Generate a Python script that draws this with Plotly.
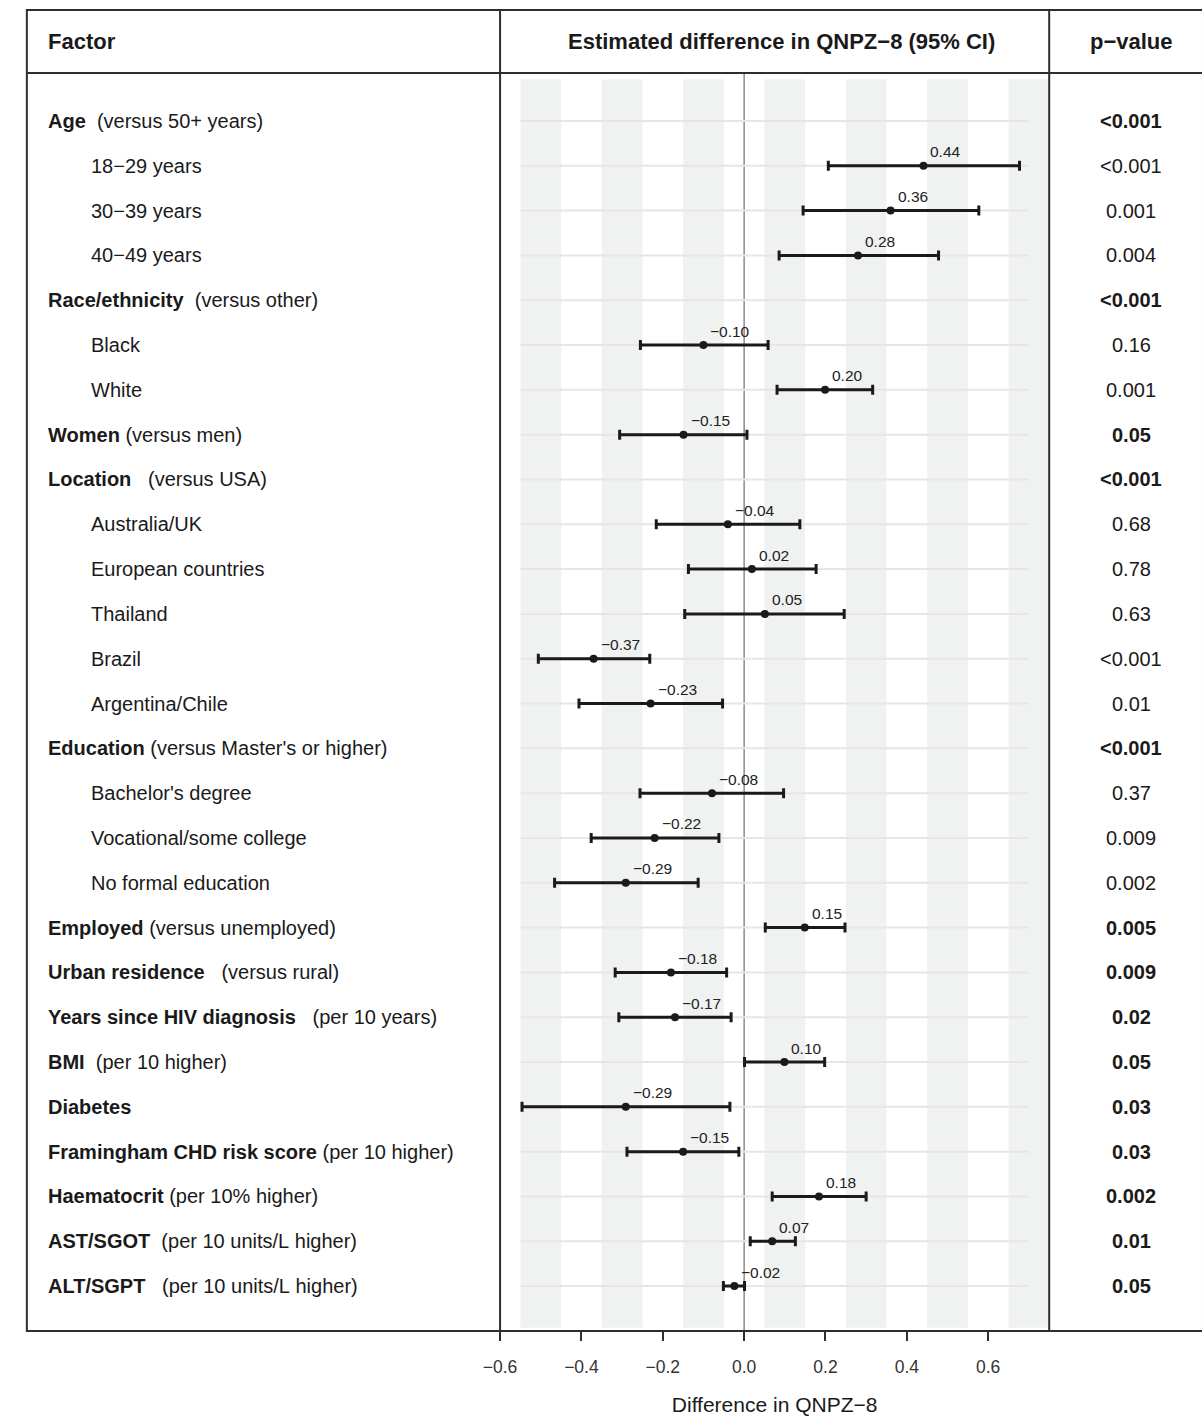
import plotly.graph_objects as go

# ---------------- data ----------------
label_bold = ["Age", "", "", "", "Race/ethnicity", "", "", "Women", "Location", "", "", "", "", "",
              "Education", "", "", "", "Employed", "Urban residence", "Years since HIV diagnosis",
              "BMI", "Diabetes", "Framingham CHD risk score", "Haematocrit", "AST/SGOT", "ALT/SGPT"]
label_plain = ["  (versus 50+ years)", "18−29 years", "30−39 years", "40−49 years", "  (versus other)",
               "Black", "White", " (versus men)", "   (versus USA)", "Australia/UK", "European countries",
               "Thailand", "Brazil", "Argentina/Chile", " (versus Master's or higher)", "Bachelor's degree",
               "Vocational/some college", "No formal education", " (versus unemployed)", "   (versus rural)",
               "   (per 10 years)", "  (per 10 higher)", "", " (per 10 higher)", " (per 10% higher)",
               "  (per 10 units/L higher)", "   (per 10 units/L higher)"]
row_level = [0, 1, 1, 1, 0, 1, 1, 0, 0, 1, 1, 1, 1, 1, 0, 1, 1, 1, 0, 0, 0, 0, 0, 0, 0, 0, 0]

estimate = [None, 0.441, 0.360, 0.280, None, -0.100, 0.199, -0.149, None, -0.040, 0.019, 0.051,
            -0.370, -0.230, None, -0.079, -0.220, -0.291, 0.149, -0.180, -0.170, 0.099, -0.291,
            -0.150, 0.184, 0.069, -0.024]
ci_low = [None, 0.207, 0.145, 0.086, None, -0.255, 0.081, -0.306, None, -0.216, -0.137, -0.146,
          -0.506, -0.406, None, -0.256, -0.376, -0.466, 0.052, -0.317, -0.308, 0.001, -0.546,
          -0.288, 0.069, 0.015, -0.051]
ci_high = [None, 0.677, 0.577, 0.478, None, 0.059, 0.316, 0.007, None, 0.137, 0.177, 0.246,
           -0.232, -0.053, None, 0.097, -0.062, -0.113, 0.248, -0.043, -0.032, 0.198, -0.035,
           -0.013, 0.300, 0.126, 0.001]
p_values = ["<0.001", "<0.001", "0.001", "0.004", "<0.001", "0.16", "0.001", "0.05", "<0.001", "0.68",
            "0.78", "0.63", "<0.001", "0.01", "<0.001", "0.37", "0.009", "0.002", "0.005", "0.009",
            "0.02", "0.05", "0.03", "0.03", "0.002", "0.01", "0.05"]

x_ticks = [-0.6, -0.4, -0.2, 0.0, 0.2, 0.4, 0.6]
band_centres = [-0.5, -0.3, -0.1, 0.1, 0.3, 0.5, 0.7]
band_halfwidth = 0.05
grid_extent = (-0.55, 0.70)
x_range = (-0.6, 0.75)

header_factor = "Factor"
header_est = "Estimated difference in QNPZ−8 (95% CI)"
header_p = "p−value"
x_title = "Difference in QNPZ−8"

# ---------------- layout constants ----------------
W, H = 1202, 1416
FONT = "Liberation Sans, Arial, Helvetica, sans-serif"
TXT = "#1a1a1a"
BORDER = "#2e2e2e"
box_left, box_top, box_right, box_bottom = 10, 10, 1203, 1331
header_line = 73
col1, col2 = 490, 1047
row0_px, row_step = 121, 44.81

n = len(estimate)
rows = list(range(n))


def px_x(p):
    return p / W


def px_y(p):
    return 1 - p / H


y_top = (header_line - row0_px) / row_step
y_bottom = (box_bottom - row0_px) / row_step

fig = go.Figure()

idx = [i for i in rows if estimate[i] is not None]
ex = [estimate[i] for i in idx]
ey = [rows[i] for i in idx]
fig.add_trace(go.Scatter(
    x=ex, y=ey, mode="markers",
    marker=dict(size=8, color=TXT),
    error_x=dict(type="data", symmetric=False,
                 array=[ci_high[i] - estimate[i] for i in idx],
                 arrayminus=[estimate[i] - ci_low[i] for i in idx],
                 thickness=3, width=5, color=TXT),
    showlegend=False, hoverinfo="skip", cliponaxis=False,
))

shapes = []
# grey bands
for c in band_centres:
    shapes.append(dict(type="rect", xref="x", yref="y", x0=c - band_halfwidth, x1=c + band_halfwidth,
                       y0=-0.93, y1=26.93, fillcolor="#f0f2f1", line=dict(width=0), layer="below"))
# row grid lines
for r in rows:
    shapes.append(dict(type="line", xref="x", yref="y", x0=grid_extent[0], x1=grid_extent[1],
                       y0=r, y1=r, line=dict(color="#e6e6e6", width=2), layer="below"))
# zero line
shapes.append(dict(type="line", xref="x", yref="y domain", x0=0, x1=0, y0=0, y1=1,
                   line=dict(color="#6e6e6e", width=1.2), layer="below"))
# table borders
shapes.append(dict(type="rect", xref="paper", yref="paper", x0=px_x(box_left), x1=px_x(box_right),
                   y0=px_y(box_bottom), y1=px_y(box_top), line=dict(color=BORDER, width=2),
                   fillcolor="rgba(0,0,0,0)"))
shapes.append(dict(type="line", xref="paper", yref="paper", x0=px_x(box_left), x1=px_x(box_right),
                   y0=px_y(header_line), y1=px_y(header_line), line=dict(color=BORDER, width=2)))
for cx in (col1, col2):
    shapes.append(dict(type="line", xref="paper", yref="paper", x0=px_x(cx), x1=px_x(cx),
                       y0=px_y(box_bottom), y1=px_y(box_top), line=dict(color=BORDER, width=2)))

annotations = []
# headers
hy = px_y((box_top + header_line) / 2)
annotations.append(dict(text=f"<b>{header_factor}</b>", x=px_x(29), y=hy, xref="paper", yref="paper",
                        xanchor="left", yanchor="middle", showarrow=False, font=dict(size=22, color=TXT)))
annotations.append(dict(text=f"<b>{header_est}</b>", x=px_x(775), y=hy, xref="paper", yref="paper",
                        xanchor="center", yanchor="middle", showarrow=False, font=dict(size=22, color=TXT)))
annotations.append(dict(text=f"<b>{header_p}</b>", x=px_x(1130), y=hy, xref="paper", yref="paper",
                        xanchor="center", yanchor="middle", showarrow=False, font=dict(size=22, color=TXT)))

# factor labels and p-values
for i in rows:
    plain = label_plain[i].replace(" ", "\u00a0") if label_bold[i] else label_plain[i]
    txt = (f"<b>{label_bold[i]}</b>" if label_bold[i] else "") + plain
    xpos = 29 if row_level[i] == 0 else 73
    annotations.append(dict(text=txt, x=px_x(xpos), y=rows[i], xref="paper", yref="y",
                            xanchor="left", yanchor="middle", showarrow=False,
                            font=dict(size=20, color=TXT)))
    ptxt = f"<b>{p_values[i]}</b>" if row_level[i] == 0 else p_values[i]
    annotations.append(dict(text=ptxt, x=px_x(1130), y=rows[i], xref="paper", yref="y",
                            xanchor="center", yanchor="middle", showarrow=False,
                            font=dict(size=20, color=TXT)))

# estimate labels
for i in idx:
    lab = f"{estimate[i]:.2f}".replace("-", "−")
    annotations.append(dict(text=lab, x=estimate[i], y=rows[i], xref="x", yref="y",
                            xanchor="left", yanchor="middle", xshift=5, yshift=14, showarrow=False,
                            font=dict(size=15.5, color="#222222")))

fig.update_layout(
    width=W, height=H,
    margin=dict(l=0, r=0, t=0, b=0),
    paper_bgcolor="white", plot_bgcolor="rgba(0,0,0,0)",
    font=dict(family=FONT, color=TXT),
    shapes=shapes, annotations=annotations,
    xaxis=dict(domain=[px_x(col1), px_x(col2)], range=list(x_range), showgrid=False, zeroline=False,
               showline=False, ticks="outside", ticklen=9, tickwidth=2, tickcolor=BORDER,
               tickvals=x_ticks, ticktext=[f"{v:.1f}".replace("-", "−") for v in x_ticks],
               tickfont=dict(size=17.5, color="#333333"), ticklabelstandoff=11,
               title=dict(text=x_title, font=dict(size=21, color=TXT), standoff=21)),
    yaxis=dict(domain=[px_y(box_bottom), px_y(header_line)], range=[y_bottom, y_top],
               showgrid=False, zeroline=False, showline=False, showticklabels=False, ticks=""),
)

fig.write_html("out.html", config={"displayModeBar": False},
               post_script="document.body.style.margin='0';")
